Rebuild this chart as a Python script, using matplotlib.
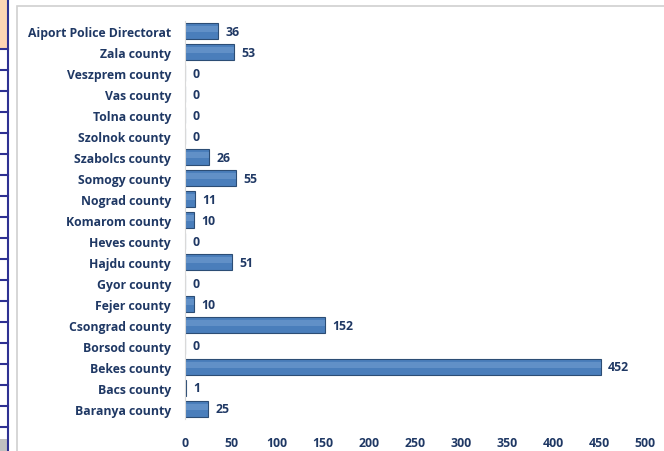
import matplotlib.pyplot as plt
from matplotlib.patches import Rectangle
from matplotlib.lines import Line2D

# categories listed bottom -> top, as the axis draws them
counties = ["Baranya county", "Bacs county", "Bekes county", "Borsod county",
            "Csongrad county", "Fejer county", "Gyor county", "Hajdu county",
            "Heves county", "Komarom county", "Nograd county", "Somogy county",
            "Szabolcs county", "Szolnok county", "Tolna county", "Vas county",
            "Veszprem county", "Zala county", "Aiport Police Directorat"]
cases = [25, 1, 452, 0, 152, 10, 0, 51, 0, 10, 11, 55, 26, 0, 0, 0, 0, 53, 36]
xticks = [0, 50, 100, 150, 200, 250, 300, 350, 400, 450, 500]

navy = "#1f3864"
plt.rcParams['font.family'] = ['Open Sans', 'DejaVu Sans']
plt.rcParams['font.weight'] = 'bold'
fs = 8.8

fig = plt.figure(figsize=(6.64, 4.52), dpi=100)

# chart frame (partly cut off at right/bottom like the screenshot)
fig.patches.append(Rectangle((17/664, -0.05), 1.0, 1 - 7/452 + 0.05,
                             transform=fig.transFigure, fill=False,
                             edgecolor="#d0d0d0", linewidth=1.2))
# fragment of the table on the left edge
fig.patches.append(Rectangle((0, 1 - 50/452), 8/664, 50/452,
                             transform=fig.transFigure, facecolor="#fcd5b4",
                             edgecolor="none"))
fig.patches.append(Rectangle((0, 0), 8/664, 12/452,
                             transform=fig.transFigure, facecolor="#c0c0c0",
                             edgecolor="none"))
fig.lines.append(Line2D([8/664, 8/664], [0, 1], transform=fig.transFigure,
                        color="#2e3192", linewidth=1.5))
for k in range(19):
    yy = 1 - (50 + 21 * k) / 452
    fig.lines.append(Line2D([0, 8/664], [yy, yy], transform=fig.transFigure,
                            color="#2e3192", linewidth=1.5))

ax = fig.add_axes([185/664, 0.0697, 460/664, 0.8827])
y = range(len(counties))
ax.barh(y, cases, height=0.75, color="#4a7ebb", edgecolor="#2c4d75",
        linewidth=0.8)
ax.barh([i + 0.1 for i in y], cases, height=0.3, color="#8cb2e0",
        edgecolor="none", alpha=0.35)

for i, v in enumerate(cases):
    ax.text(v + 8, i, str(v), va="center", ha="left", fontsize=fs,
            color=navy, fontweight="bold")

ax.set_xlim(0, 500)
ax.set_ylim(-0.5, len(counties) - 0.5)
ax.set_yticks(list(y))
ax.set_yticklabels(counties, fontsize=fs, color=navy, fontweight="bold")
ax.set_xticks(xticks)
ax.set_xticklabels([str(t) for t in xticks], fontsize=fs, color=navy,
                   fontweight="bold")
ax.tick_params(axis="y", length=0, pad=10)
ax.tick_params(axis="x", length=0, pad=12)
for s in ["top", "right", "bottom"]:
    ax.spines[s].set_visible(False)
ax.spines["left"].set_color("#d9d9d9")

fig.savefig("out.png", dpi=100)
